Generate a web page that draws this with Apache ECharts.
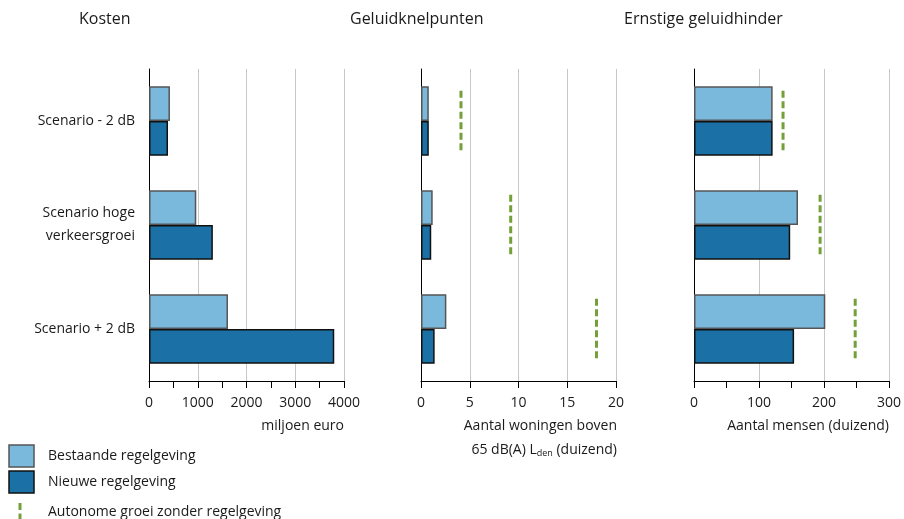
<!DOCTYPE html>
<html><head><meta charset="utf-8">
<script src="https://cdn.jsdelivr.net/npm/echarts@6/dist/echarts.min.js"></script>
<style>html,body{margin:0;padding:0;background:#fff}#c{width:904px;height:519px}</style>
</head><body><div id="c"></div>
<script>
const categories = ['Scenario - 2 dB', 'Scenario hoge\nverkeersgroei', 'Scenario + 2 dB'];
const panelTitles = ['Kosten', 'Geluidknelpunten', 'Ernstige geluidhinder'];
const seriesNames = ['Bestaande regelgeving', 'Nieuwe regelgeving', 'Autonome groei zonder regelgeving'];
const kostenBestaand = [430, 970, 1620];
const kostenNieuw = [390, 1310, 3800];
const knelBestaand = [0.8, 1.2, 2.6];
const knelNieuw = [0.8, 1.05, 1.4];
const knelAutonoom = [4.1, 9.2, 18];
const hinderBestaand = [121, 160, 202];
const hinderNieuw = [121, 148, 154];
const hinderAutonoom = [137, 194, 248];
const axisMax = [4000, 20, 300];
const axisInterval = [1000, 5, 100];

const LIGHT = '#7ab9dc', DARK = '#1b71a5', GREEN = '#74a03a', TXT = '#1a1a1a';
const FONT = 'Open Sans';
const chart = echarts.init(document.getElementById('c'), null, {renderer: 'canvas'});

const gridLefts = [149, 421, 694];
const grids = gridLefts.map(l => ({left: l, width: 195, top: 69, height: 312}));

const xAxes = [0, 1, 2].map(i => ({
  type: 'value', gridIndex: i, min: 0, max: axisMax[i], interval: axisInterval[i],
  axisLine: {show: true, lineStyle: {color: '#000', width: 1}},
  axisTick: {show: true, length: 7, lineStyle: {color: '#000'}},
  minorTick: {show: i !== 1, splitNumber: 2, length: 7, lineStyle: {color: '#000'}},
  splitLine: {show: true, lineStyle: {color: '#c8c8c8', width: 1}},
  axisLabel: {color: TXT, fontFamily: FONT, fontSize: 14, margin: 15, formatter: v => String(v)}
}));
const yAxes = [0, 1, 2].map(i => ({
  type: 'category', gridIndex: i, data: categories, inverse: true,
  axisLine: {show: true, lineStyle: {color: '#000', width: 1}},
  axisTick: {show: false},
  axisLabel: {show: i === 0, color: TXT, fontFamily: FONT, fontSize: 14, lineHeight: 23, margin: 14, align: 'right'}
}));

function barSeries(name, data, idx, color, border) {
  return {
    type: 'bar', name, data, xAxisIndex: idx, yAxisIndex: idx,
    barGap: '0%', barCategoryGap: '33%',
    itemStyle: {color, borderColor: border, borderWidth: 1.5},
    animation: false
  };
}
function dashSeries(name, values, idx) {
  return {
    type: 'custom', name, xAxisIndex: idx, yAxisIndex: idx,
    data: values.map((v, k) => [v, k]),
    encode: {x: 0, y: 1},
    animation: false,
    renderItem: function (params, api) {
      const p = api.coord([api.value(0), api.value(1)]);
      const band = api.size([0, 1])[1];
      const h = band * 0.58;
      return {
        type: 'line',
        shape: {x1: p[0], y1: p[1] - h / 2, x2: p[0], y2: p[1] + h / 2},
        style: {stroke: GREEN, lineWidth: 3, lineDash: [7, 3.5]}
      };
    }
  };
}

const series = [
  barSeries(seriesNames[0], kostenBestaand, 0, LIGHT, '#555'),
  barSeries(seriesNames[1], kostenNieuw, 0, DARK, '#111'),
  barSeries(seriesNames[0], knelBestaand, 1, LIGHT, '#555'),
  barSeries(seriesNames[1], knelNieuw, 1, DARK, '#111'),
  dashSeries(seriesNames[2], knelAutonoom, 1),
  barSeries(seriesNames[0], hinderBestaand, 2, LIGHT, '#555'),
  barSeries(seriesNames[1], hinderNieuw, 2, DARK, '#111'),
  dashSeries(seriesNames[2], hinderAutonoom, 2)
];

const ts = {color: TXT, fontFamily: FONT, fontSize: 16, fontWeight: 'normal'};
const ns = {color: TXT, fontFamily: FONT, fontSize: 14, fontWeight: 'normal'};
const titles = [
  {text: panelTitles[0], left: 79, top: 11, padding: 0, textStyle: ts},
  {text: panelTitles[1], left: 350, top: 11, padding: 0, textStyle: ts},
  {text: panelTitles[2], left: 624, top: 11, padding: 0, textStyle: ts},
  {text: 'miljoen euro', right: 560, top: 419, padding: 0, textStyle: ns},
  {text: 'Aantal woningen boven', right: 287, top: 419, padding: 0, textStyle: ns},
  {text: '65 dB(A) L{s|den} (duizend)', right: 287, top: 442, padding: 0,
   textStyle: Object.assign({}, ns, {rich: {s: {fontFamily: FONT, fontSize: 9, color: TXT, padding: [7, 0, 0, 0]}}})},
  {text: 'Aantal mensen (duizend)', right: 15, top: 419, padding: 0, textStyle: ns}
];

const graphic = [
  {type: 'rect', shape: {x: 9, y: 445, width: 25, height: 22}, style: {fill: LIGHT, stroke: '#555', lineWidth: 1.5}},
  {type: 'rect', shape: {x: 9, y: 471, width: 25, height: 22}, style: {fill: DARK, stroke: '#111', lineWidth: 1.5}},
  {type: 'line', shape: {x1: 20, y1: 503, x2: 20, y2: 519}, style: {stroke: GREEN, lineWidth: 3, lineDash: [7, 3.5]}},
  {type: 'text', x: 48, y: 456, style: {text: seriesNames[0], fill: TXT, font: '14px "Open Sans"', verticalAlign: 'middle'}},
  {type: 'text', x: 48, y: 482, style: {text: seriesNames[1], fill: TXT, font: '14px "Open Sans"', verticalAlign: 'middle'}},
  {type: 'text', x: 48, y: 512, style: {text: seriesNames[2], fill: TXT, font: '14px "Open Sans"', verticalAlign: 'middle'}}
];

chart.setOption({
  animation: false,
  backgroundColor: '#fff',
  title: titles,
  grid: grids,
  xAxis: xAxes,
  yAxis: yAxes,
  series,
  graphic
});
</script></body></html>
